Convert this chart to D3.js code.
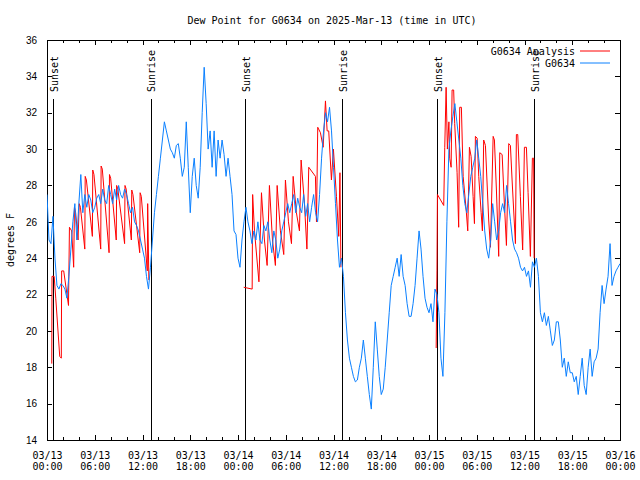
<!DOCTYPE html>
<html><head><meta charset="utf-8">
<script src="https://cdn.jsdelivr.net/npm/d3@7"></script>
<style>
body{margin:0;background:#fff;}
svg{display:block;}
text{font-family:"DejaVu Sans Mono",monospace;font-size:10px;fill:#000;}
.ylab text{font-family:"Liberation Sans Narrow","Liberation Sans",sans-serif;font-size:10px;}
</style></head>
<body>
<svg id="c" width="640" height="480"></svg>
<script>
// ---- data (hours after 2025-03-13 00:00 UTC) ----
const title = "Dew Point for G0634 on 2025-Mar-13 (time in UTC)";
const yLabel = "degrees F";
const seriesNames = ["G0634 Analysis", "G0634"];
const yTicks = [14,16,18,20,22,24,26,28,30,32,34,36];
const sunsetHours = [0.86, 24.97, 49.09];
const sunriseHours = [13.13, 37.15, 61.28];

// observation, every 15 minutes from 0h to 72h
const obsDew = [
27.5,25,24.8,26.3, 24,22.5,22.3,22.6, 22.5,22.3,21.8,23, 24.5,26,27,25,
27,28.6,26.5,27.5, 26.8,27.5,27.2,26.5, 26.8,27.3,27.5,27, 27.8,27.2,27,28,
27.5,27,27.8,27.2, 28.0,27.5,27.3,27.8, 27.5,27,26.5,26.8, 26,25.8,25.5,25,
24.5,24,23,22.3, 23.5,25,26.5,27.5, 28.5,29.5,30.5,31.5, 31.0,30.5,30.0,29.8,
29.5,30.2,30.3,29.5, 28.5,29,31.5,29, 26.5,28.5,29.5,28, 27.3,29,32,34.5,
32.5,30,31,29, 31,28.5,30.5,29.5, 30.5,29.7,28.5,29.5, 28.5,27.5,25.5,25.3,
24,23.5,25,26, 26.8,26,25.5,24.8, 25.5,25,26,25, 24.8,25.8,25.5,26,
25,24.3,25.5,25, 24,24.5,25.5,26, 26.5,27,26.5,27, 27.5,26.5,27.3,26.8,
26.5,27.5,26.3,27, 26,26.8,27.5,26.5, 26,27.5,29.5,31, 32,31.5,32.3,31,
29,27,25,23.5, 24,23,21,19.5, 18.5,18,17.5,17.2, 17.3,18,18.5,19.5,
18.5,17.5,16.5,15.7, 18,20.5,19,17.5, 16.5,16.8,18,19.5, 21,22.5,23,23.5,
24,23,24.2,23, 22.5,21.5,20.8,20.8, 21.5,22.5,24,25.5, 24.5,23,21.8,21.3,
21,21.5,20.5,22.3, 22,21,18.5,17.5, 21,26,30,31, 31.8,32.5,31.5,30.5,
29.5,28,27,26.5, 27.5,28.5,29,29.5, 30.5,29.5,28.5,27, 25.5,24.5,24.0,25,
27,26,25,25.5, 26.5,27,26.5,28, 27,26,25,24.5, 24.3,24,23.5,23.3,
23.5,23,23.3,22.4, 23.8,23.5,24,23, 21,20.5,21,20.3, 20.8,20,19.2,19.5,
20.5,20.5,19.5,18, 18.5,17.5,18.3,17.7, 17.7,17.2,17.5,16.5, 17.5,18.5,17,16.5,
18,19,17.5,18.3, 18.5,19,21,22.5, 21.5,22.3,23,24.8, 22.5,23,23.3,23.5, 23.7
];
const obsHours = d3.range(obsDew.length).map(i => i * 0.25);

// analysis (null = gap)
const anaHours = [
0.60,0.63,0.90,1.10,1.60,1.80,1.84,2.10,2.70,2.82,3.10,3.35,3.45,3.60,3.90,
4.05,4.20,4.75,4.80,4.95,5.70,5.75,5.90,6.75,6.80,6.95,7.80,7.85,8.00,8.70,
8.75,8.90,9.75,9.80,9.95,10.60,10.65,10.80,11.65,11.70,11.85,12.60,12.65,12.80,
13.0,
24.72,25.78,25.84,26.07,26.63,26.95,27.32,27.66,27.95,28.33,28.70,28.92,29.33,
29.75,29.96,30.34,30.72,30.93,31.34,31.72,31.93,32.35,32.66,32.89,33.73,33.86,
34.02,34.36,34.70,34.99,35.20,35.40,35.74,35.99,36.37,36.66,36.81,36.93,
37.0,
48.90,49.00,49.06,49.85,49.98,50.15,50.31,50.50,50.60,50.78,50.90,51.10,51.23,
51.53,51.73,51.86,52.07,52.29,52.70,52.87,53.08,53.29,53.54,53.71,53.83,54.05,
54.25,54.55,54.71,54.87,55.09,55.50,55.72,56.06,56.22,56.47,56.76,56.89,57.19,
57.39,57.73,58.02,58.23,58.44,58.86,58.98,59.15,59.48,59.77,59.99,60.24,60.45,
60.74,60.99,61.15,61.21
];
const anaDew = [
18.2,23.0,23.0,21.8,18.6,18.5,23.3,23.3,21.4,25.7,25.5,23.5,26.8,26.5,25.0,
27.0,26.8,24.5,28.5,28.3,25.2,28.85,28.6,24.5,29.07,28.9,24.3,28.6,28.4,25.0,
28.0,27.8,24.8,28.0,27.8,25.0,27.75,27.5,24.3,27.6,27.4,23.3,27.0,22.8,
null,
22.4,22.3,27.5,25.5,22.7,27.6,25.0,23.6,28.0,25.0,23.6,28.0,25.5,
24.2,28.3,26.0,24.8,28.5,26.5,25.5,29.4,27.0,24.5,29.0,28.5,26.0,
31.2,30.9,30.1,32.65,31.0,31.0,28.3,30.0,27.4,25.2,28.7,23.5,
null,
19.06,23.3,27.5,26.9,30.1,33.4,30.0,31.5,29.5,29.0,33.25,33.25,31.4,
28.7,25.7,32.3,32.3,28.5,26.5,25.5,30.1,29.6,27.4,25.9,30.7,30.6,
28.5,26.5,25.5,30.5,30.2,26.1,24.6,30.7,30.5,27.75,24.1,29.8,29.7,
27.75,24.7,30.3,30.2,28.3,24.8,30.8,30.8,27.4,24.45,30.1,30.1,27.6,
24.1,29.5,29.5,24.0
];

// ---- drawing ----
const BASE = Date.UTC(2025, 2, 13);
const toDate = h => new Date(BASE + h * 3600e3);
const L = 47, R = 620, T = 40, B = 440;
const svg = d3.select("#c");
const x = d3.scaleUtc().domain([toDate(0), toDate(72)]).range([L, R]);
const y = d3.scaleLinear().domain([14, 36]).range([B, T]);

svg.append("defs").append("clipPath").attr("id","clip")
  .append("rect").attr("x",L).attr("y",T).attr("width",R-L).attr("height",B-T);

// axes
const fmtD = d3.utcFormat("%m/%d"), fmtT = d3.utcFormat("%H:%M");
const gx = svg.append("g").attr("transform",`translate(0,${B})`)
  .call(d3.axisBottom(x).ticks(d3.utcHour.every(6)).tickSizeInner(-5).tickSizeOuter(0).tickPadding(0).tickFormat(""));
gx.selectAll(".tick").append("text")
  .attr("text-anchor","middle").attr("y",18.5)
  .call(t => t.append("tspan").attr("x",0).text(d => fmtD(d)))
  .call(t => t.append("tspan").attr("x",0).attr("dy",11).text(d => fmtT(d)));
svg.append("g").attr("transform",`translate(0,${B})`)
  .call(d3.axisBottom(x).ticks(d3.utcHour.every(2)).tickSize(-3).tickSizeOuter(0).tickFormat(""));
svg.append("g").attr("transform",`translate(0,${T})`)
  .call(d3.axisTop(x).ticks(d3.utcHour.every(6)).tickSize(-5).tickSizeOuter(0).tickFormat(""));
svg.append("g").attr("transform",`translate(0,${T})`)
  .call(d3.axisTop(x).ticks(d3.utcHour.every(2)).tickSize(-3).tickSizeOuter(0).tickFormat(""));
const gy = svg.append("g").attr("class","ylab").attr("transform",`translate(${L},0)`)
  .call(d3.axisLeft(y).tickValues(yTicks).tickSize(-5).tickSizeOuter(0).tickPadding(10).tickFormat(d3.format("d")));
svg.append("g").attr("transform",`translate(${R},0)`)
  .call(d3.axisRight(y).tickValues(yTicks).tickSize(-5).tickSizeOuter(0).tickFormat(""));
svg.selectAll(".domain").remove();
svg.selectAll(".tick line").attr("stroke","#000").attr("shape-rendering","crispEdges");
gy.selectAll("text").attr("fill","#000");

// frame
svg.append("rect").attr("x",L).attr("y",T).attr("width",R-L).attr("height",B-T)
  .attr("fill","none").attr("stroke","#000").attr("shape-rendering","crispEdges");

// sun lines
const sunEvents = sunsetHours.map(h => ({h, name:"Sunset"}))
  .concat(sunriseHours.map(h => ({h, name:"Sunrise"})));
sunEvents.forEach(e => {
  const xp = x(toDate(e.h));
  svg.append("line").attr("x1",xp).attr("x2",xp).attr("y1",99).attr("y2",B)
    .attr("stroke","#000").attr("shape-rendering","crispEdges");
  svg.append("text").attr("transform",`translate(${xp+4},92) rotate(-90)`)
    .attr("text-anchor","start").text(e.name);
});

// data lines
const anaData = anaHours.map((h,i) => ({t: toDate(h), v: anaDew[i]}));
const obsData = obsHours.map((h,i) => ({t: toDate(h), v: obsDew[i]}));
const line = d3.line().defined(d => d.v != null).x(d => x(d.t)).y(d => y(d.v));
svg.append("path").datum(anaData).attr("d",line).attr("clip-path","url(#clip)")
  .attr("fill","none").attr("stroke","#ff0000").attr("stroke-width",1);
svg.append("path").datum(obsData).attr("d",line).attr("clip-path","url(#clip)")
  .attr("fill","none").attr("stroke","#0a80ff").attr("stroke-width",1);

// legend
const legColors = ["#ff0000", "#0a80ff"];
seriesNames.forEach((n,i) => {
  const yy = 51 + i*12;
  svg.append("text").attr("x",575).attr("y",yy+3.5).attr("text-anchor","end").text(n);
  svg.append("line").attr("x1",580).attr("x2",610).attr("y1",yy).attr("y2",yy)
    .attr("stroke",legColors[i]).attr("stroke-width",1);
});

// title & y label
svg.append("text").attr("x",332).attr("y",24).attr("text-anchor","middle").text(title);
svg.append("text").attr("transform","translate(14,240) rotate(-90)")
  .attr("text-anchor","middle").text(yLabel);
</script>
</body></html>
